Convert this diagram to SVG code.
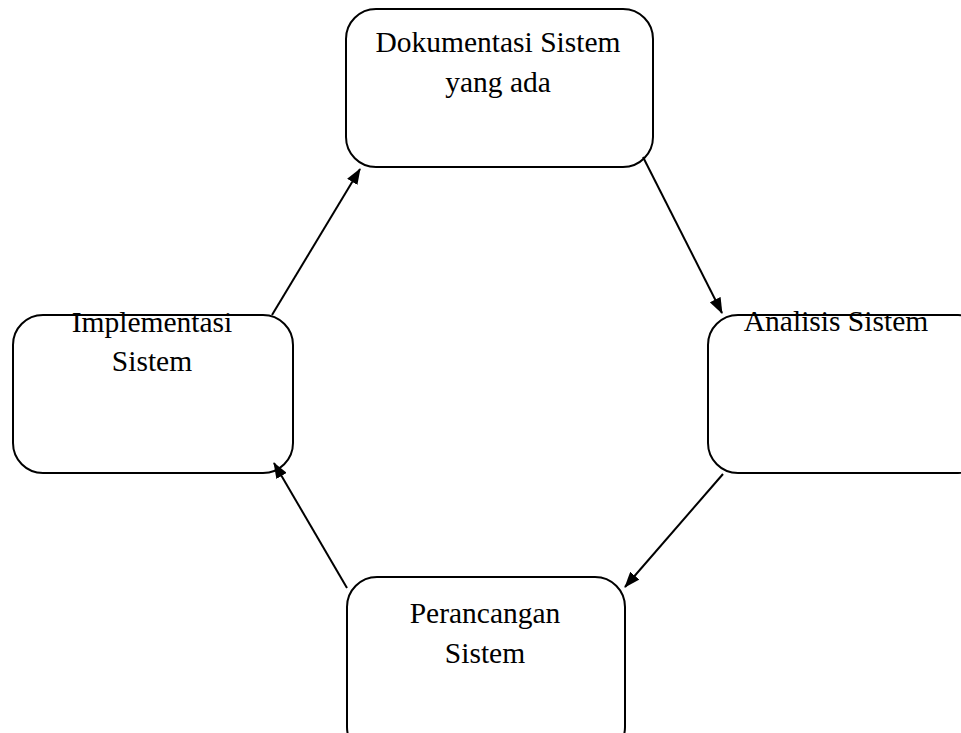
<svg xmlns="http://www.w3.org/2000/svg" width="961" height="733" viewBox="0 0 961 733">
<style>
.box{fill:#fff;stroke:#000;stroke-width:2}
.lbl{font-family:"Liberation Serif","Times New Roman",serif;font-size:29.5px;fill:#000;text-anchor:middle}
.con{stroke:#000;stroke-width:2;fill:none;marker-end:url(#ah)}
</style>
<defs>
<marker id="ah" viewBox="0 0 16 12" refX="15" refY="6" markerWidth="16" markerHeight="12" markerUnits="userSpaceOnUse" orient="auto">
<path d="M0,0 L16,6 L0,12 z" fill="#000"/>
</marker>
</defs>
<rect width="961" height="733" fill="#fff"/>
<g id="node-dokumentasi">
<rect class="box" x="346" y="9" width="307" height="158" rx="30" ry="30"/>
<text class="lbl" x="498" y="52">Dokumentasi Sistem</text>
<text class="lbl" x="498" y="92">yang ada</text>
</g>
<g id="node-analisis">
<rect class="box" x="708" y="315" width="280" height="158" rx="30" ry="30"/>
<text class="lbl" x="836" y="331">Analisis Sistem</text>
</g>
<g id="node-perancangan">
<rect class="box" x="347" y="577" width="278" height="180" rx="30" ry="30"/>
<text class="lbl" x="485" y="623">Perancangan</text>
<text class="lbl" x="485" y="663">Sistem</text>
</g>
<g id="node-implementasi">
<rect class="box" x="13" y="315" width="280" height="158" rx="30" ry="30"/>
<text class="lbl" x="152" y="332">Implementasi</text>
<text class="lbl" x="152" y="371">Sistem</text>
</g>
<g id="connectors">
<line class="con" x1="643" y1="157" x2="722" y2="313"/>
<line class="con" x1="723" y1="474" x2="625" y2="587"/>
<line class="con" x1="347" y1="588" x2="274" y2="463"/>
<line class="con" x1="272" y1="315" x2="360" y2="169"/>
</g>
</svg>
